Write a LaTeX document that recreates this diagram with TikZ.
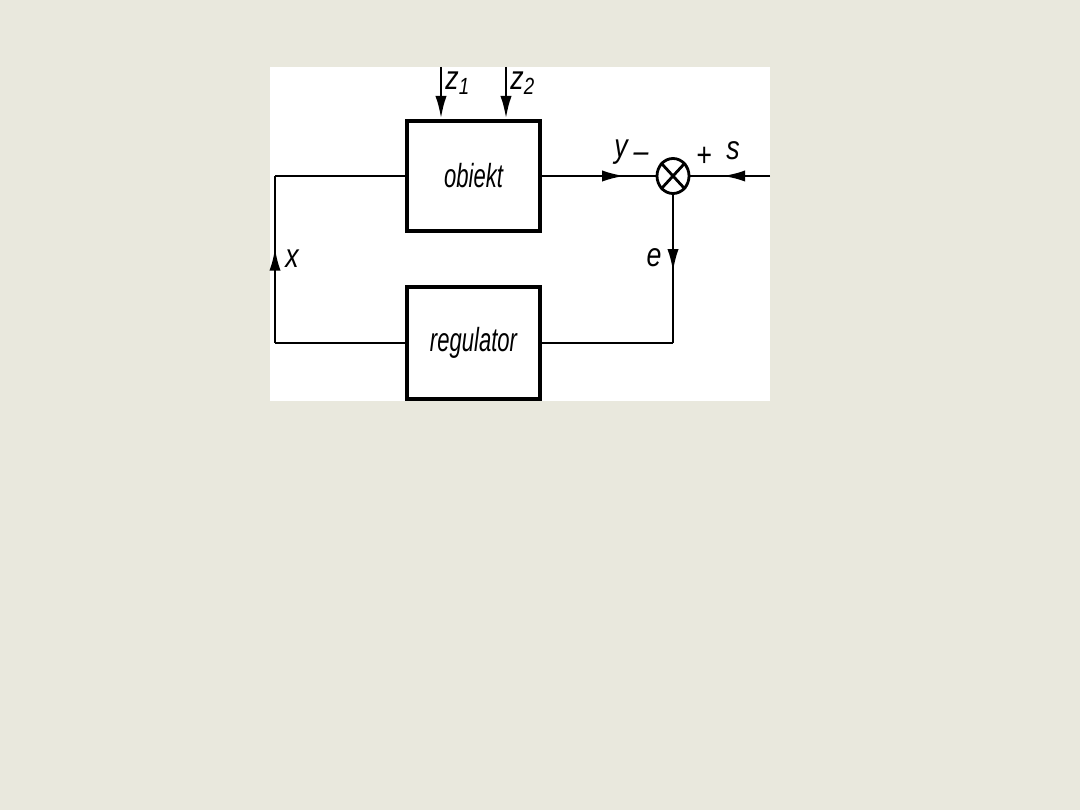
\documentclass[tikz,border=0pt]{standalone}
\usepackage{fontspec}
\setsansfont{Liberation Sans}
\usetikzlibrary{arrows.meta,decorations.markings,shapes.geometric}
\definecolor{bgc}{RGB}{233,232,221}
\newcommand\cond[1]{\scalebox{0.66}[1]{\sffamily\itshape\fontsize{9.5}{11}\selectfont #1}}
\newcommand\var[1]{\scalebox{0.8}[1]{\sffamily\itshape\fontsize{9.5}{11}\selectfont #1}}
\tikzset{
  blk/.style={draw,line width=1.2pt,minimum width=1.33cm,minimum height=1.10cm,inner sep=0},
  wire/.style={line width=0.8pt},
  tip/.style={-{Latex[length=6.5pt,width=3.2pt]}},
  midarrow/.style={postaction={decorate},decoration={markings,mark=at position #1 with {\arrow{Latex[length=6.5pt,width=3.2pt]}}}},
  lab/.style={inner sep=0},
}
\begin{document}
\begin{tikzpicture}[x=0.01cm,y=-0.01cm]
\fill[bgc] (0,0) rectangle (1080,810);
\useasboundingbox (0,0) rectangle (1080,810);
\fill[white] (270,67) rectangle (770,401);
% blocks
\node[blk] (obj) at (473.5,176) {\cond{obiekt}};
\node[blk,minimum height=1.12cm] (reg) at (473.5,343) {\cond{regulator}};
\node[draw,ellipse,line width=0.8pt,minimum width=0.32cm,minimum height=0.35cm,inner sep=0] (sum) at (673,176) {};
\draw[wire] (sum.north east) -- (sum.south west) (sum.north west) -- (sum.south east);
% coordinates
\coordinate (sin) at (770,176);
\coordinate (ecorner) at (673,343);
\coordinate (xb) at (275,343);
\coordinate (xt) at (275,176);
\coordinate (z1s) at (441,67);
\coordinate (z2s) at (506,67);
% connectors
\draw[wire,midarrow=0.73] (obj.east) -- (sum.west);
\draw[wire,midarrow=0.6] (sin) -- (sum.east);
\draw[wire,midarrow=0.52] (sum.south) -- (ecorner);
\draw[wire] (ecorner) -- (reg.east);
\draw[wire] (reg.west) -- (xb);
\draw[wire,midarrow=0.57] (xb) -- (xt);
\draw[wire] (xt) -- (obj.west);
\draw[wire,tip] (z1s) -- (z1s |- obj.north);
\draw[wire,tip] (z2s) -- (z2s |- obj.north);
% labels
\node[lab] (lz1) at (458,83) {\var{z\textsubscript{1}}};
\node[lab] (lz2) at (523,83) {\var{z\textsubscript{2}}};
\node[lab] (ly) at (621,152) {\var{y}};
\node[lab] (lminus) at (641,158) {\var{–}};
\node[lab] (lplus) at (704,157) {\var{+}};
\node[lab] (ls) at (733,151) {\var{s}};
\node[lab] (le) at (654,258) {\var{e}};
\node[lab] (lx) at (292,259) {\var{x}};
\end{tikzpicture}
\end{document}
